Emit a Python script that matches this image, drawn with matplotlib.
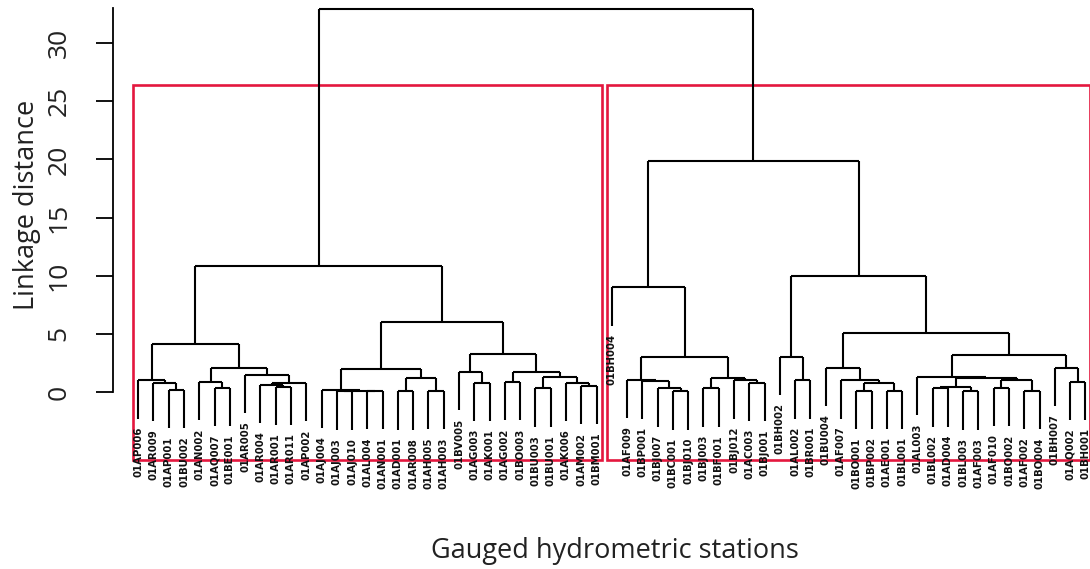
import numpy as np
import matplotlib
matplotlib.use("Agg")
import matplotlib.pyplot as plt
from matplotlib.collections import LineCollection
from matplotlib.patches import Rectangle

# station labels in dendrogram order (left to right)
stations = [
    "01AP006", "01AR009", "01AP001", "01BU002", "01AN002", "01AQ007", "01BE001",
    "01AR005", "01AR004", "01AR001", "01AR011", "01AP002", "01AJ004", "01AJ003",
    "01AJ010", "01AL004", "01AN001", "01AD001", "01AR008", "01AH005", "01AH003",
    "01BV005", "01AG003", "01AK001", "01AG002", "01BO003", "01BU003", "01BU001",
    "01AK006", "01AM002", "01BM001",
    "01BH004", "01AF009", "01BP001", "01BJ007", "01BC001", "01BJ010", "01BJ003",
    "01BF001", "01BJ012", "01AC003", "01BJ001", "01BH002", "01AL002", "01BR001",
    "01BU004", "01AF007", "01BO001", "01BP002", "01AE001", "01BL001", "01AL003",
    "01BL002", "01AD004", "01BL003", "01AF003", "01AF010", "01BO002", "01AF002",
    "01BO004", "01BH007", "01AQ002", "01BH001",
]

# hclust style merge table: negative = station (position), positive = earlier merge
merge = [
    (-3, -4), (-2, 1), (-1, 2), (-6, -7), (-5, 4),
    (-10, -11), (-9, 6), (-12, 7), (-8, 8), (5, 9),
    (3, 10), (-14, -15), (-16, -17), (12, 13), (-13, 14),
    (-18, -19), (-20, -21), (16, 17), (15, 18), (-23, -24),
    (-22, 20), (-25, -26), (-27, -28), (-30, -31), (-29, 24),
    (23, 25), (22, 26), (21, 27), (19, 28), (11, 29),
    (-36, -37), (-35, 31), (-34, 32), (-33, 33), (-38, -39),
    (-41, -42), (-40, 36), (35, 37), (34, 38), (-32, 39),
    (-44, -45), (-43, 41), (-48, -49), (-50, -51), (43, 44),
    (-47, 45), (-46, 46), (-53, -54), (-55, -56), (48, 49),
    (-57, -58), (-59, -60), (51, 52), (50, 53), (-52, 54),
    (-62, -63), (-61, 56), (55, 57), (47, 58), (42, 59),
    (40, 60), (30, 61),
]
height = [
    0.2, 0.8, 1.0, 0.35, 0.87,
    0.45, 0.6, 0.78, 1.47, 2.1,
    4.1, 0.05, 0.08, 0.12, 0.17,
    0.05, 0.1, 1.2, 2.0, 0.8,
    1.7, 0.86, 0.3, 0.5, 0.8,
    1.3, 1.7, 3.3, 6.0, 10.8,
    0.05, 0.3, 0.95, 1.05, 0.3,
    0.8, 1.0, 1.2, 3.0, 9.0,
    1.0, 3.0, 0.1, 0.1, 0.8,
    1.0, 2.1, 0.3, 0.05, 0.4,
    0.35, 0.1, 1.0, 1.2, 1.3,
    0.9, 2.1, 3.2, 5.1, 10.0,
    19.9, 32.9,
]

n = len(stations)
hang = 0.1 * max(height)

# build the dendrogram segments
pos = {}
size = {}
segs = []
leaf_bottom = np.zeros(n)
for k, ((a, b), h) in enumerate(zip(merge, height), start=1):
    xs = []
    cnt = 0
    for c in (a, b):
        if c < 0:
            x = -c
            y0 = h - hang
            leaf_bottom[x - 1] = y0
            cnt += 1
        else:
            x, y0 = pos[c]
            cnt += size[c]
        segs.append([(x, y0), (x, h)])
        xs.append(x)
    segs.append([(xs[0], h), (xs[1], h)])
    pos[k] = (np.mean(xs), h)
    size[k] = cnt

fig = plt.figure(figsize=(10.9, 5.69), dpi=100)
ax = fig.add_axes([113 / 1090, 109 / 569, 977 / 1090, 455 / 569])
ax.set_xlim(-0.65, 63.3)
ax.set_ylim(-5.85, 33.28)

ax.add_collection(LineCollection(segs, colors="black", linewidths=1.5))

for i, lab in enumerate(stations):
    ax.text(i + 1, leaf_bottom[i] - 0.7, lab, rotation=90, ha="center", va="top",
            fontsize=7.3, fontweight="bold", color="#111111")

# two-cluster boxes
last = merge[-1][0]
n1 = size[last] if last > 0 else 1
top = (height[-1] + height[-2]) / 2
bottom = ax.get_ylim()[0]
for x0, x1 in [(0.66, n1 + 0.33), (n1 + 0.66, n + 0.33)]:
    ax.add_patch(Rectangle((x0, bottom), x1 - x0, top - bottom, fill=False,
                           edgecolor="#e4173e", linewidth=1.9, clip_on=False))

for s in ["top", "right", "bottom"]:
    ax.spines[s].set_visible(False)
ax.spines["left"].set_bounds(0, 33)
ax.spines["left"].set_linewidth(1.3)
ax.set_xticks([])
ax.set_yticks(np.arange(0, 31, 5))
ax.tick_params(axis="y", length=12, width=1.3, pad=18, labelsize=19,
               labelrotation=90, labelcolor="#222222")
for t in ax.get_yticklabels():
    t.set_fontfamily("Open Sans")
    t.set_va("center")

fig.text(27 / 1090, 1 - 205 / 569, "Linkage distance", rotation=90, ha="center",
         va="center", fontsize=19.5, family="Open Sans", color="#222222")
fig.text(615 / 1090, 1 - 551 / 569, "Gauged hydrometric stations", ha="center",
         va="center", fontsize=19.5, family="Open Sans", color="#222222")

fig.savefig("out.png", dpi=100)
